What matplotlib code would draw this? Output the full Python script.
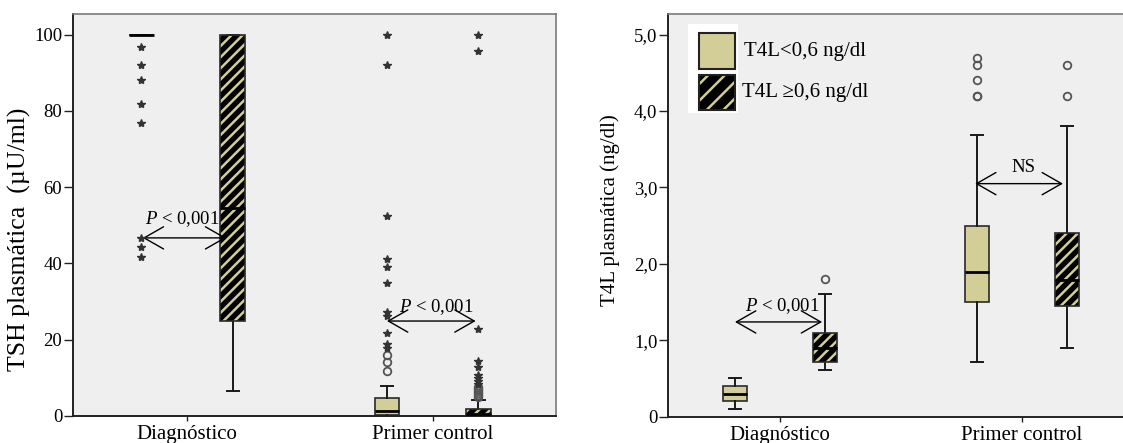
import matplotlib
matplotlib.use('Agg')
import matplotlib.pyplot as plt
from matplotlib.patches import Rectangle, PathPatch

plt.rcParams['font.family'] = 'Liberation Serif'
plt.rcParams['mathtext.fontset'] = 'custom'
plt.rcParams['mathtext.rm'] = 'Liberation Serif'
plt.rcParams['mathtext.it'] = 'Liberation Serif:italic'
plt.rcParams['hatch.linewidth'] = 1.8

khaki = '#d3cd97'
fondo = '#efefef'

grupos = ['Diagnóstico', 'Primer control']
series = ['T4L<0,6 ng/dl', 'T4L ≥0,6 ng/dl']

# orden de las cajas: (Diag, <0,6), (Diag, >=0,6), (Primer, <0,6), (Primer, >=0,6)
tsh_q1 = [100, 25.0, 0.3, 0.2]
tsh_med = [100, 54.5, 1.4, 0.6]
tsh_q3 = [100, 100, 4.6, 1.8]
tsh_lo = [100, 6.5, 0, 0]
tsh_hi = [100, 100, 7.9, 4.2]
tsh_circulos = [[], [], [11.9, 14.1, 16.1], [5.0, 5.5, 6.0, 6.5, 7.1, 7.7]]
tsh_estrellas = [[96.8, 92.0, 88.2, 81.9, 76.8, 46.7, 44.4, 41.8], [],
                 [17.9, 19.0, 21.8, 26.2, 27.3, 34.9, 39.0, 41.1, 52.4, 92.0, 100],
                 [8.4, 9.1, 9.9, 10.7, 12.9, 14.4, 22.7, 95.6, 100]]

t4l_q1 = [0.2, 0.71, 1.5, 1.45]
t4l_med = [0.3, 0.9, 1.9, 1.79]
t4l_q3 = [0.4, 1.1, 2.5, 2.4]
t4l_lo = [0.1, 0.61, 0.71, 0.9]
t4l_hi = [0.5, 1.61, 3.69, 3.8]
t4l_circulos = [[], [1.8], [4.2, 4.2, 4.4, 4.6, 4.7], [4.2, 4.6]]
t4l_estrellas = [[], [], [], []]

tsh_ticks = [0, 20, 40, 60, 80, 100]
tsh_labels = ['0', '20', '40', '60', '80', '100']
t4l_ticks = [0, 1, 2, 3, 4, 5]
t4l_labels = ['0', '1,0', '2,0', '3,0', '4,0', '5,0']

pos = [g + d for g in range(len(grupos)) for d in (-0.186, 0.186)]


def dibujar(ax, q1, med, q3, lo, hi, circ, estr):
    stats = []
    for i in range(4):
        stats.append(dict(q1=q1[i], med=med[i], q3=q3[i], whislo=lo[i], whishi=hi[i], fliers=[]))
    b = ax.bxp(stats, positions=pos, widths=0.1, patch_artist=True, showfliers=False,
               medianprops=dict(color='black', lw=2),
               whiskerprops=dict(color='#1a1a1a', lw=1.4),
               capprops=dict(color='#1a1a1a', lw=1.4))
    for i, caja in enumerate(b['boxes']):
        if i % 2 == 0:
            caja.set_facecolor(khaki)
            caja.set_edgecolor('#2a2a2a')
            caja.set_linewidth(1.2)
        else:
            caja.set_facecolor('black')
            caja.set_edgecolor(khaki)
            caja.set_hatch('///')
            caja.set_linewidth(0)
            borde = PathPatch(caja.get_path(), fill=False, edgecolor='#2a2a2a', lw=1.2,
                              transform=caja.get_transform(), zorder=caja.get_zorder() + 0.1)
            ax.add_patch(borde)
    for m in b['medians']:
        m.set_zorder(4)
    for i in range(4):
        if circ[i]:
            ax.plot([pos[i]] * len(circ[i]), circ[i], 'o', mfc='none', mec='#555555',
                    ms=5.5, mew=1.3, ls='none', zorder=5)
        if estr[i]:
            ax.plot([pos[i]] * len(estr[i]), estr[i], '*', color='#333333',
                    ms=6, ls='none', zorder=5)


def estilo(ax, ticks, labels):
    ax.set_facecolor(fondo)
    ax.set_xticks(range(len(grupos)))
    ax.set_xticklabels(grupos, fontsize=15)
    ax.set_yticks(ticks)
    ax.set_yticklabels(labels, fontsize=13.5)
    ax.tick_params(axis='y', length=6.5, width=1, pad=1, color='#222222')
    ax.tick_params(axis='x', length=3.5, width=1, pad=3, color='#222222')
    for s in ['left', 'bottom']:
        ax.spines[s].set_color('#222222')
        ax.spines[s].set_linewidth(1.4)
    for s in ['top', 'right']:
        ax.spines[s].set_color('#7a7a7a')
        ax.spines[s].set_linewidth(1.2)


def flecha(ax, x0, x1, y, texto, xt, yt):
    ax.annotate('', xy=(x0, y), xytext=(x1, y),
                arrowprops=dict(arrowstyle='<->,head_length=0.7,head_width=0.4', lw=1,
                                color='black', shrinkA=0, shrinkB=0, mutation_scale=20))
    ax.text(xt, yt, texto, ha='center', va='center', fontsize=13.5)


fig = plt.figure(figsize=(11.23, 4.43), dpi=100)
ax1 = fig.add_axes([72.7 / 1123, 27 / 443, (556 - 72.7) / 1123, 402 / 443])
ax2 = fig.add_axes([667.7 / 1123, 26.3 / 443, (1123 - 667.7) / 1123, 402.7 / 443])

# TSH
dibujar(ax1, tsh_q1, tsh_med, tsh_q3, tsh_lo, tsh_hi, tsh_circulos, tsh_estrellas)
estilo(ax1, tsh_ticks, tsh_labels)
ax1.set_xlim(-0.465, 1.502)
ax1.set_ylim(0, 105.4)
ax1.set_ylabel('TSH plasmática  (µU/ml)', fontsize=18.5)
ax1.yaxis.set_label_coords(-0.111, 0.44)
ax1.yaxis.label.set_verticalalignment('center')
flecha(ax1, -0.18, 0.16, 46.7, r'$P$ < 0,001', -0.02, 51.6)
flecha(ax1, 0.814, 1.175, 24.9, r'$P$ < 0,001', 1.014, 28.6)

# T4L
dibujar(ax2, t4l_q1, t4l_med, t4l_q3, t4l_lo, t4l_hi, t4l_circulos, t4l_estrellas)
estilo(ax2, t4l_ticks, t4l_labels)
ax2.spines['right'].set_visible(False)
ax2.set_xlim(-0.464, 1.417)
ax2.set_ylim(0, 5.27)
ax2.set_ylabel('T4L plasmática (ng/dl)', fontsize=15)
ax2.yaxis.set_label_coords(-0.127, 0.513)
ax2.yaxis.label.set_verticalalignment('center')
flecha(ax2, -0.186, 0.174, 1.24, r'$P$ < 0,001', 0.01, 1.45)
flecha(ax2, 0.806, 1.169, 3.05, 'NS', 1.005, 3.26)

# leyenda
ax2.add_patch(Rectangle((0.0446, 0.754), 0.11, 0.221, transform=ax2.transAxes,
                        fc='white', ec='none', zorder=6))
ax2.add_patch(Rectangle((0.068, 0.863), 0.079, 0.09, transform=ax2.transAxes,
                        fc=khaki, ec='#222222', lw=1.5, zorder=7))
ax2.add_patch(Rectangle((0.068, 0.762), 0.079, 0.087, transform=ax2.transAxes,
                        fc='black', ec=khaki, hatch='//', lw=0, zorder=7))
ax2.add_patch(Rectangle((0.068, 0.762), 0.079, 0.087, transform=ax2.transAxes,
                        fill=False, ec='#222222', lw=1.5, zorder=8))
ax2.text(0.168, 0.908, series[0], transform=ax2.transAxes, va='center', fontsize=15, zorder=8)
ax2.text(0.163, 0.805, series[1], transform=ax2.transAxes, va='center', fontsize=15, zorder=8)

fig.savefig('out.png', dpi=100)
